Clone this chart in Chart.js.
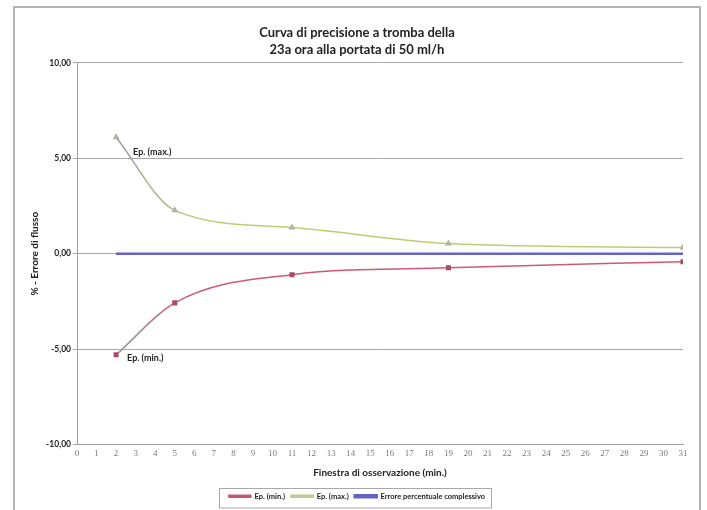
<!DOCTYPE html>
<html>
<head>
<meta charset="utf-8">
<script src="https://cdn.jsdelivr.net/npm/chart.js@4.4.1/dist/chart.umd.min.js"></script>
<style>
  body { margin: 0; background: #fff; }
  #wrap { width: 707px; height: 510px; }
</style>
</head>
<body>
<div id="wrap"><canvas id="curva" width="707" height="510"></canvas></div>
<script>
// finestra di osservazione (min.)
const minuti = [2, 5, 11, 19, 31]
const epMin = [-5.3, -2.58, -1.1, -0.74, -0.42]
const epMax = [6.1, 2.27, 1.37, 0.53, 0.32]
const erroreComplessivo = [0, 0, 0, 0, 0]
const yTicks = [-10, -5, 0, 5, 10]
const titolo = ['Curva di precisione a tromba della', '23a ora alla portata di 50 ml/h']

function toPoints(vals) {
  return minuti.map((m, i) => ({ x: m, y: vals[i] }))
}

// linea che parte grigia e poi prende il colore (come nel grafico excel)
function fade(colore) {
  return function (context) {
    const chart = context.chart
    const area = chart.chartArea
    if (!area) return colore
    const xs = chart.scales.x
    const g = chart.ctx.createLinearGradient(xs.getPixelForValue(2), 0, xs.getPixelForValue(6), 0)
    g.addColorStop(0, '#9a9a9a')
    g.addColorStop(1, colore)
    return g
  }
}

const cornice = {
  id: 'cornice',
  beforeDraw(chart) {
    const ctx = chart.ctx
    ctx.save()
    ctx.fillStyle = '#fff'
    ctx.fillRect(0, 0, chart.width, chart.height)
    ctx.strokeStyle = '#b4b4b4'
    ctx.lineWidth = 2
    ctx.strokeRect(14, 7, 686, 520)
    ctx.restore()
  },
  afterDraw(chart) {
    const ctx = chart.ctx
    // box della legenda attorno alle voci
    const lg = chart.legend
    const boxes = lg.legendHitBoxes
    let l = Math.min(...boxes.map(b => b.left)) - 10
    let r = Math.max(...boxes.map(b => b.left + b.width)) + 6
    ctx.save()
    ctx.strokeStyle = '#a8a8a8'
    ctx.lineWidth = 1
    ctx.strokeRect(Math.round(l) + 0.5, Math.round(lg.top + 1) + 0.5, Math.round(r - l), lg.height - 4)
    // etichette Ep. (max.) / Ep. (min.)
    ctx.font = 'bold 9px Lato'
    ctx.fillStyle = '#222'
    ctx.textBaseline = 'middle'
    const pMax = chart.getDatasetMeta(1).data[0]
    const pMin = chart.getDatasetMeta(0).data[0]
    ctx.fillText('Ep. (max.)', pMax.x + 17, pMax.y + 15)
    ctx.fillText('Ep. (min.)', pMin.x + 11, pMin.y + 3)
    ctx.restore()
  }
}

new Chart(document.getElementById('curva'), {
  type: 'line',
  data: {
    datasets: [{
      label: 'Ep. (min.)',
      data: toPoints(epMin),
      borderColor: fade('#cc5a72'),
      backgroundColor: '#b84a66',
      borderWidth: 1.5,
      pointStyle: 'rect',
      pointRadius: 2.5,
      pointBorderColor: '#a84a60',
      pointBackgroundColor: '#b84a66',
      cubicInterpolationMode: 'monotone'
    }, {
      label: 'Ep. (max.)',
      data: toPoints(epMax),
      borderColor: fade('#bfcb72'),
      backgroundColor: '#c8c8c8',
      borderWidth: 1.5,
      pointStyle: 'triangle',
      pointRadius: 2.5,
      pointBorderColor: '#b0b0a0',
      pointBackgroundColor: '#c0c0b0',
      cubicInterpolationMode: 'monotone'
    }, {
      label: 'Errore percentuale complessivo',
      data: toPoints(erroreComplessivo),
      borderColor: '#6564c6',
      backgroundColor: '#55558a',
      borderWidth: 2.5,
      pointRadius: 0,
      tension: 0
    }]
  },
  options: {
    responsive: false,
    animation: false,
    layout: { padding: { left: 14, right: 7, top: 24, bottom: 0 } },
    plugins: {
      title: {
        display: true,
        text: titolo,
        color: '#222',
        font: { family: 'Lato', size: 13, weight: 'bold', lineHeight: 1.3 },
        padding: { top: 0, bottom: 5 }
      },
      legend: {
        position: 'bottom',
        labels: {
          color: '#222',
          font: { family: 'Lato', size: 7.5, weight: 'bold' },
          boxWidth: 22,
          boxHeight: 2,
          padding: 6
        }
      },
      tooltip: { enabled: false }
    },
    scales: {
      x: {
        type: 'linear',
        min: 0,
        max: 31,
        grid: { display: false, drawTicks: false },
        border: { color: '#a0a0a0', width: 1 },
        ticks: {
          stepSize: 1,
          color: '#7a7a7a',
          padding: 4,
          maxRotation: 0,
          autoSkip: false,
          font: { family: 'Liberation Sans Narrow', size: 9 }
        },
        title: {
          display: true,
          text: 'Finestra di osservazione (min.)',
          color: '#222',
          font: { family: 'Lato', size: 10, weight: 'bold' },
          padding: { top: 2, bottom: 8 }
        },
        afterFit(scale) { scale.height = 42 }
      },
      y: {
        min: -10,
        max: 10,
        afterBuildTicks(scale) { scale.ticks = yTicks.map(v => ({ value: v })) },
        grid: { color: '#a6a6a6', lineWidth: 1, tickLength: 4, drawTicks: true },
        border: { color: '#a0a0a0', width: 1 },
        ticks: {
          color: '#222',
          padding: 2,
          font: { family: 'Lato', size: 8.5, weight: 'bold' },
          callback: v => v.toFixed(2).replace('.', ',')
        },
        title: {
          display: true,
          text: '% - Errore di flusso',
          color: '#222',
          font: { family: 'Lato', size: 10, weight: 'bold' },
          padding: { top: 15, bottom: 0 }
        },
        afterFit(scale) { scale.width = 63 }
      },
      y2: {
        position: 'right',
        display: true,
        grid: { display: false, drawTicks: false },
        border: { display: false },
        ticks: { display: false },
        afterFit(scale) { scale.width = 17 }
      }
    }
  },
  plugins: [cornice]
})
</script>
</body>
</html>
